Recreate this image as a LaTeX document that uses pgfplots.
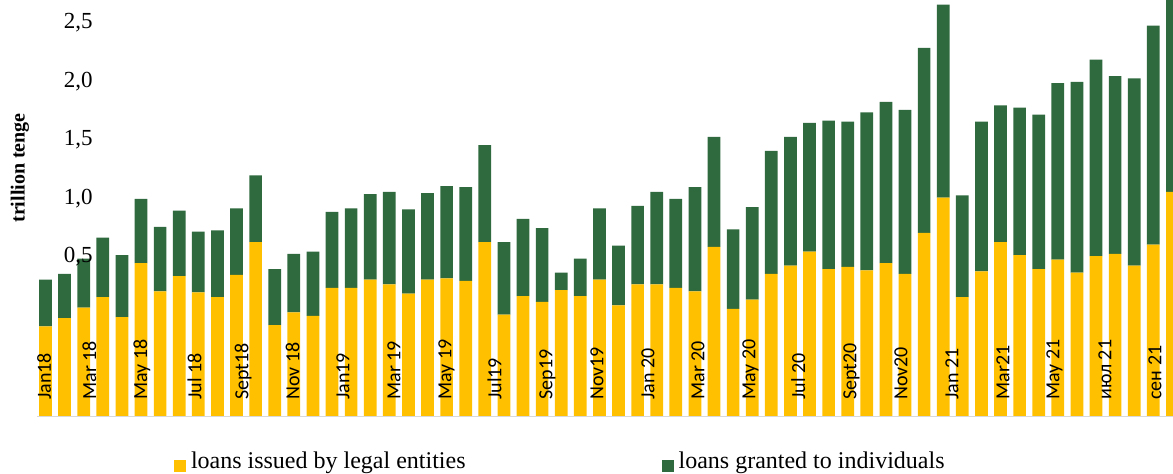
\documentclass[border=0pt]{standalone}
\usepackage{fontspec}
\setmainfont{Liberation Serif}
\newfontfamily\calibri{Carlito}
\usepackage{pgfplots}
\pgfplotsset{compat=1.18}
\usepackage{pgfplotstable}
\definecolor{cyel}{RGB}{255,192,0}
\definecolor{cgrn}{RGB}{46,106,62}
\pgfplotstableread{
idx legal indiv
0 0.77 0.40
1 0.84 0.38
2 0.93 0.42
3 1.02 0.51
4 0.85 0.53
5 1.31 0.55
6 1.07 0.55
7 1.20 0.56
8 1.06 0.52
9 1.02 0.57
10 1.21 0.57
11 1.49 0.57
12 0.78 0.48
13 0.89 0.50
14 0.86 0.55
15 1.10 0.65
16 1.10 0.68
17 1.17 0.73
18 1.13 0.79
19 1.05 0.72
20 1.17 0.74
21 1.18 0.79
22 1.16 0.80
23 1.49 0.83
24 0.87 0.62
25 1.03 0.66
26 0.98 0.63
27 1.08 0.15
28 1.03 0.32
29 1.17 0.61
30 0.95 0.51
31 1.13 0.67
32 1.13 0.79
33 1.10 0.76
34 1.07 0.89
35 1.45 0.94
36 0.92 0.68
37 1.00 0.79
38 1.22 1.05
39 1.29 1.10
40 1.41 1.10
41 1.26 1.27
42 1.28 1.24
43 1.25 1.35
44 1.31 1.38
45 1.22 1.40
46 1.57 1.58
47 1.87 1.65
48 1.02 0.87
49 1.24 1.28
50 1.49 1.17
51 1.38 1.26
52 1.26 1.32
53 1.34 1.51
54 1.23 1.63
55 1.37 1.68
56 1.39 1.52
57 1.29 1.60
58 1.47 1.87
59 1.92 1.64
}\loans
\begin{document}
\begin{tikzpicture}
\useasboundingbox (0,0) rectangle (586.5pt,236.5pt);
\begin{axis}[
  at={(18.5pt,28.25pt)}, anchor=south west,
  scale only axis, width=568pt, height=208.25pt,
  xmin=-0.445, xmax=59.03, ymin=0, ymax=3.56,
  enlargelimits=false,
  axis on top,
  ybar stacked, bar width=0.665,
  axis x line*=bottom, axis y line*=left,
  x axis line style={draw=black!15, line width=0.8pt, -},
  y axis line style={draw=none},
  major tick length=0pt, tick style={draw=none},
  ytick={1.363,1.863,2.363,2.863,3.363},
  yticklabels={{0,5},{1,0},{1,5},{2,0},{2,5}},
  yticklabel style={font=\fontsize{11.5}{12}\selectfont, inner sep=0pt, anchor=east, xshift=28pt},
  xtick={0.05,2.43,5.10,7.93,10.39,13.06,15.68,18.35,21.02,23.64,26.31,28.98,31.65,34.27,36.94,39.55,42.23,44.90,47.57,50.24,52.85,55.58,58.2},
  xticklabels={Jan18,Mar 18,May 18,Jul 18,Sept18,Nov 18,Jan19,Mar 19,May 19,Jul19,Sep19,Nov19,Jan 20,Mar 20,May 20,Jul 20,Sept20,Nov20,Jan 21,Mar21,May 21,июл 21,сен 21},
  xticklabel style={font=\calibri\fontsize{10}{12}\selectfont, yshift=8.25pt, rotate=90, anchor=west, inner sep=0pt, text height=0.63em, text depth=0.2em},
  ylabel={trillion tenge},
  ylabel style={at={(rel axis cs:-0.015,0.597)}, anchor=center, font=\bfseries\fontsize{10}{12}\selectfont},
  legend columns=2,
  legend image code/.code={\fill[#1] (0pt,-5pt) rectangle (6pt,1pt);},
  legend style={at={(rel axis cs:0.1206,-0.1333)}, anchor=south west, draw=none, fill=none,
    inner sep=0pt, outer sep=0pt, font=\fontsize{12}{14}\selectfont,
    nodes={inner sep=0pt},
    /tikz/every odd column/.append style={column sep=2.5pt},
    /tikz/every even column/.append style={column sep=98pt}},
]
\addplot[fill=cyel, draw=none] table[x=idx,y=legal]{\loans};
\addplot[fill=cgrn, draw=none] table[x=idx,y=indiv]{\loans};
\legend{loans issued by legal entities, loans granted to individuals}
\end{axis}
\end{tikzpicture}
\end{document}
